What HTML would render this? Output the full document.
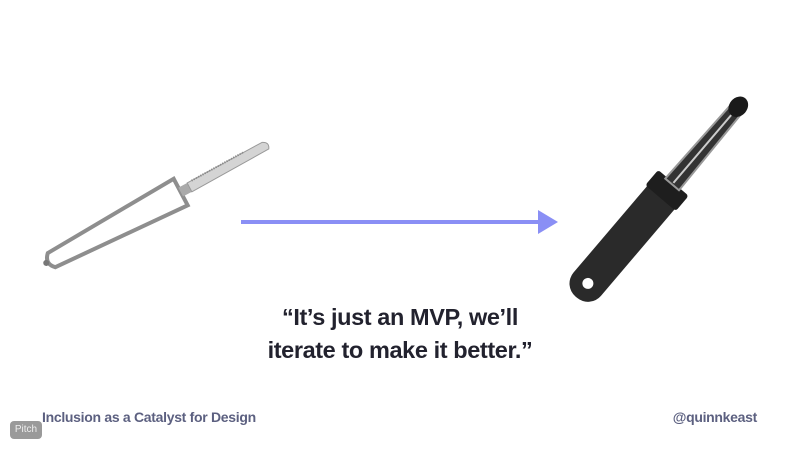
<!DOCTYPE html>
<html><head><style>
html,body{margin:0;padding:0;background:#fff;}
body{width:800px;height:450px;position:relative;overflow:hidden;font-family:"Liberation Sans",sans-serif;}
.q{position:absolute;left:0;width:800px;top:301px;text-align:center;font-weight:bold;font-size:23.5px;line-height:33px;color:#22222e;letter-spacing:-0.4px;}
.f{position:absolute;top:409px;font-weight:bold;font-size:14px;color:#5c6080;letter-spacing:-0.3px;}
.pitch{position:absolute;left:10px;top:421px;width:32px;height:18px;border-radius:4px;background:#9a9a9a;color:#eee;font-size:10px;line-height:18px;text-align:center;}
</style></head><body>
<svg width="800" height="450" style="position:absolute;left:0;top:0">
<defs>
<linearGradient id="m" x1="0" y1="0" x2="0" y2="1"><stop offset="0" stop-color="#d8d8d8"/><stop offset=".5" stop-color="#8a8a8a"/><stop offset="1" stop-color="#c0c0c0"/></linearGradient>
</defs>
<g transform="translate(48,262) rotate(-27.8)">
<path d="M4,-8 L150,-15 L150,15 L4,8 Q-4,0 4,-8Z" fill="none" stroke="#8e8e8e" stroke-width="4"/>
<line x1="4" y1="0" x2="150" y2="0" stroke="url(#m)" stroke-width="4"/>
<rect x="150" y="-5" width="12" height="10" fill="#aaa"/>
<path d="M160,-5 L245,-6 Q252,-3 248,3 L160,5Z" fill="#d4d4d4" stroke="#999" stroke-width="1"/>
<line x1="165" y1="-5" x2="225" y2="-6" stroke="#888" stroke-width="2" stroke-dasharray="1,1.5"/>
<circle cx="-2" cy="0" r="3" fill="#777"/>
</g>
<rect x="241" y="220" width="300" height="4" fill="#8a8ff5"/>
<polygon points="538,210 558,222 538,234" fill="#8a8ff5"/>
<g transform="translate(584,288) rotate(-49.6)">
<rect x="-12" y="-18" width="148" height="36" rx="17" fill="#2a2a2a"/>
<rect x="118" y="-20" width="20" height="40" rx="3" fill="#1e1e1e"/>
<circle cx="6" cy="0" r="5.5" fill="#fff"/>
<path d="M136,-9 L232,-7 L232,7 L136,9Z" fill="#333" stroke="#999" stroke-width="2"/>
<line x1="138" y1="0" x2="230" y2="0" stroke="#ccc" stroke-width="2"/>
<ellipse cx="238" cy="0" rx="11" ry="9" fill="#1a1a1a"/>
</g>
</svg>
<div class="q">“It’s just an MVP, we’ll<br>iterate to make it better.”</div>
<div class="f" style="left:42px">Inclusion as a Catalyst for Design</div>
<div class="f" style="right:43px">@quinnkeast</div>
<div class="pitch">Pitch</div>
</body></html>
